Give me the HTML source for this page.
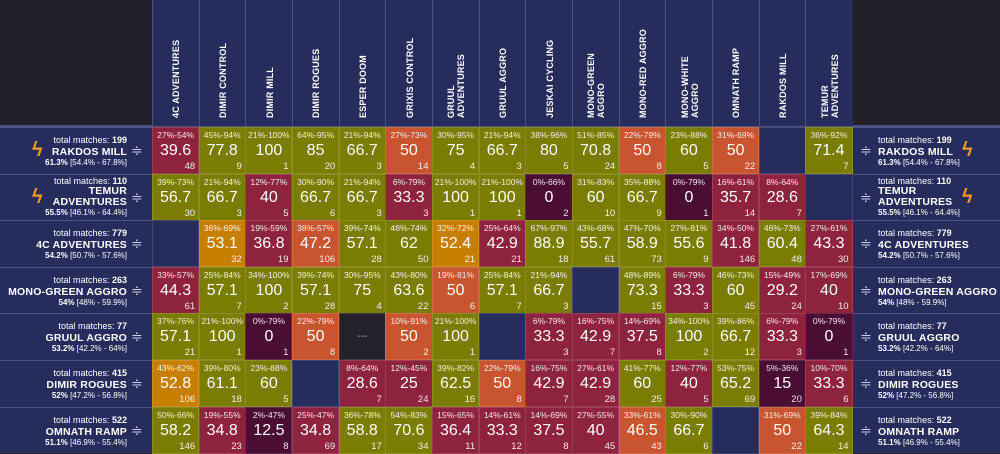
<!DOCTYPE html>
<html><head><meta charset="utf-8">
<style>
body{margin:0;width:1000px;height:453px;overflow:hidden;background:#221f2b;font-family:"Liberation Sans",sans-serif;color:#fff;position:relative}
.abs{position:absolute;box-sizing:border-box}
.hdr{background:#262d5c;border-left:1px solid #4a5382;top:0;height:126px}
.hl{position:absolute;left:50%;bottom:8px;transform-origin:0 100%;transform:rotate(-90deg) translate(0,50%);white-space:nowrap;font-weight:bold;font-size:9px;line-height:10px;letter-spacing:0.2px}
.panel{background:#262d5c;border-top:1px solid #4a5382;overflow:hidden}
.cell{border:1px solid rgba(255,255,255,0.13)}
.rng{position:absolute;top:2px;width:100%;text-align:center;font-size:8.5px;opacity:.9}
.val{position:absolute;top:14px;width:100%;text-align:center;font-size:16px}
.cnt{position:absolute;right:3px;bottom:1px;font-size:9.5px;opacity:.9}
.tm{font-size:9px;line-height:11px;white-space:nowrap}
.nm{font-weight:bold;font-size:10.5px;letter-spacing:0.2px;line-height:12px;white-space:nowrap}
.two .tm{line-height:10px}
.two .nm{line-height:11px}
.two .wr{line-height:10px}
.wr{font-size:8px;line-height:10px;white-space:nowrap}
.bolt{color:#f29a1a;font-size:20px;font-weight:bold}
.drag{font-size:14px;color:#cfd3e6}
</style></head><body>
<div id="root"></div>
<script>
const columns=["4C ADVENTURES","DIMIR CONTROL","DIMIR MILL","DIMIR ROGUES","ESPER DOOM","GRIXIS CONTROL","GRUUL<br>ADVENTURES","GRUUL AGGRO","JESKAI CYCLING","MONO-GREEN<br>AGGRO","MONO-RED AGGRO","MONO-WHITE<br>AGGRO","OMNATH RAMP","RAKDOS MILL","TEMUR<br>ADVENTURES"];
const rowNames=["RAKDOS MILL","TEMUR<br>ADVENTURES","4C ADVENTURES","MONO-GREEN AGGRO","GRUUL AGGRO","DIMIR ROGUES","OMNATH RAMP"];
const rowTotals=[199,110,779,263,77,415,522];
const rowWin=["61.3%","55.5%","54.2%","54%","53.2%","52%","51.1%"];
const rowCI=["[54.4% - 67.8%]","[46.1% - 64.4%]","[50.7% - 57.6%]","[48% - 59.9%]","[42.2% - 64%]","[47.2% - 56.8%]","[46.9% - 55.4%]"];
const rowBolt=[true,true,false,false,false,false,false];
const values=[
[39.6,77.8,100,85,66.7,50,75,66.7,80,70.8,50,60,50,null,71.4],
[56.7,66.7,40,66.7,66.7,33.3,100,100,0,60,66.7,0,35.7,28.6,null],
[null,53.1,36.8,47.2,57.1,62,52.4,42.9,88.9,55.7,58.9,55.6,41.8,60.4,43.3],
[44.3,57.1,100,57.1,75,63.6,50,57.1,66.7,null,73.3,33.3,60,29.2,40],
[57.1,100,0,50,"---",50,100,null,33.3,42.9,37.5,100,66.7,33.3,0],
[52.8,61.1,60,null,28.6,25,62.5,50,42.9,42.9,60,40,65.2,15,33.3],
[58.2,34.8,12.5,34.8,58.8,70.6,36.4,33.3,37.5,40,46.5,66.7,null,50,64.3]];
const ranges=[
["27%-54%","45%-94%","21%-100%","64%-95%","21%-94%","27%-73%","30%-95%","21%-94%","38%-96%","51%-85%","22%-79%","23%-88%","31%-69%","","36%-92%"],
["39%-73%","21%-94%","12%-77%","30%-90%","21%-94%","6%-79%","21%-100%","21%-100%","0%-66%","31%-83%","35%-88%","0%-79%","16%-61%","8%-64%",""],
["","36%-69%","19%-59%","38%-57%","39%-74%","48%-74%","32%-72%","25%-64%","67%-97%","43%-68%","47%-70%","27%-81%","34%-50%","46%-73%","27%-61%"],
["33%-57%","25%-84%","34%-100%","39%-74%","30%-95%","43%-80%","19%-81%","25%-84%","21%-94%","","48%-89%","6%-79%","46%-73%","15%-49%","17%-69%"],
["37%-76%","21%-100%","0%-79%","22%-79%","","10%-91%","21%-100%","","6%-79%","16%-75%","14%-69%","34%-100%","39%-86%","6%-79%","0%-79%"],
["43%-62%","39%-80%","23%-88%","","8%-64%","12%-45%","39%-82%","22%-79%","16%-75%","27%-61%","41%-77%","12%-77%","53%-75%","5%-36%","10%-70%"],
["50%-66%","19%-55%","2%-47%","25%-47%","36%-78%","54%-83%","15%-65%","14%-61%","14%-69%","27%-55%","33%-61%","30%-90%","","31%-69%","39%-84%"]];
const counts=[
[48,9,1,20,3,14,4,3,5,24,8,5,22,null,7],
[30,3,5,6,3,3,1,1,2,10,9,1,14,7,null],
[null,32,19,106,28,50,21,21,18,61,73,9,146,48,30],
[61,7,2,28,4,22,6,7,3,null,15,3,45,24,10],
[21,1,1,8,null,2,1,null,3,7,8,2,12,3,1],
[106,18,5,null,7,24,16,8,7,28,25,5,69,20,6],
[146,23,8,69,17,34,11,12,8,45,43,6,null,22,14]];

const X0=152,CW=46.67,Y0=127,RH=46.6;
const colX=i=>X0+i*CW, rowY=j=>Y0+j*RH;
function color(v){
  if(v==="---")return "#24212d";
  if(v===null)return "#262d5c";
  if(v>=55)return "#7b7c02";
  if(v>=51)return "#c77f02";
  if(v>=45)return "#c8552f";
  if(v>=20)return "#8e233d";
  return "#4a0e34";
}
const root=document.getElementById('root');
function mk(cls,css,html){const d=document.createElement('div');d.className='abs '+cls;d.style.cssText=css;if(html!==undefined)d.innerHTML=html;root.appendChild(d);return d;}
let rt=mk('', `left:${colX(15)}px;top:0;width:${1000-colX(15)}px;height:126px;background:#221f2b`);


let hline=mk('',`left:0;top:125px;width:1000px;height:2px;background:#4a5382`);


columns.forEach((c,i)=>{
  const h=mk('hdr',`left:${colX(i)}px;width:${CW+1}px;`);
  
  
  const l=document.createElement('div');l.className='hl';l.innerHTML=c;h.appendChild(l);
});
rowNames.forEach((n,j)=>{
  const y=rowY(j);
  const lp=mk('panel',`left:0;top:${y}px;width:${X0}px;height:${RH}px;`);
  
  
  const two=n.includes('<br>');
  const top=two?1:7;
  const cls=two?'two':'';
  lp.innerHTML=`<div class="${cls}" style="position:absolute;right:25px;top:${top}px;text-align:right"><div class="tm">total matches: <b>${rowTotals[j]}</b></div><div class="nm">${n}</div><div class="wr"><b>${rowWin[j]}</b> ${rowCI[j]}</div></div><div class="drag" style="position:absolute;left:131px;top:14px">≑</div>`+(rowBolt[j]?`<div class="bolt" style="position:absolute;left:32px;top:11px">ϟ</div>`:'');
  const rp=mk('panel',`left:${colX(15)}px;top:${y}px;width:${1000-colX(15)}px;height:${RH}px;`);
  
  
  rp.innerHTML=`<div class="${cls}" style="position:absolute;left:26px;top:${top}px"><div class="tm">total matches: <b>${rowTotals[j]}</b></div><div class="nm">${n}</div><div class="wr"><b>${rowWin[j]}</b> ${rowCI[j]}</div></div><div class="drag" style="position:absolute;left:8px;top:14px">≑</div>`+(rowBolt[j]?`<div class="bolt" style="position:absolute;left:110px;top:11px">ϟ</div>`:'');
  values[j].forEach((v,i)=>{
    const c=mk('cell',`left:${colX(i)}px;top:${y}px;width:${CW+0.5}px;height:${RH+0.5}px;background:${color(v)}`);
    
    
    if(v===null)return;
    if(v==="---"){c.innerHTML='<div class="val" style="font-size:10px;top:17px;opacity:.6">---</div>';return;}
    c.innerHTML=`<div class="rng">${ranges[j][i]}</div><div class="val">${v}</div><div class="cnt">${counts[j][i]}</div>`;
  });
});
</script>
</body></html>
